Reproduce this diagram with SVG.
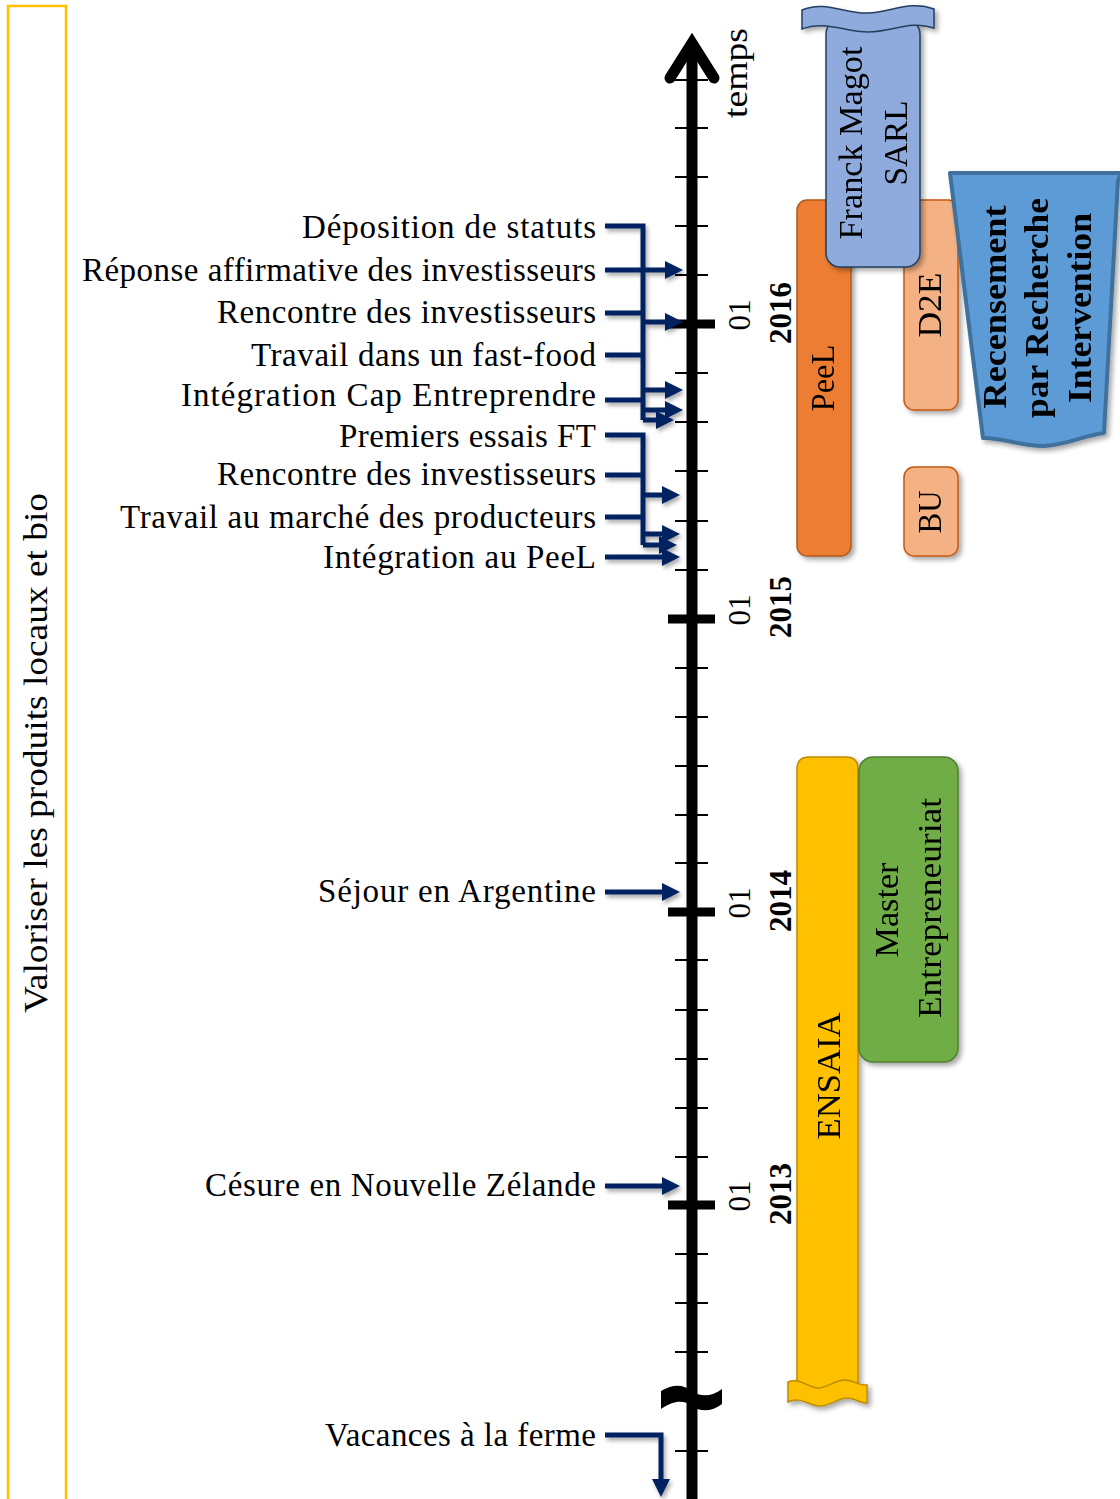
<svg xmlns="http://www.w3.org/2000/svg" width="1120" height="1499" viewBox="0 0 1120 1499">
<style>
.lbl{font-family:"Liberation Serif",serif;font-size:33px;fill:#000}
.yr{font-family:"Liberation Serif",serif;font-size:31px;font-weight:bold;fill:#000}
.mo{font-family:"Liberation Serif",serif;font-size:31px;fill:#000}
.box{font-family:"Liberation Serif",serif;font-size:33px;fill:#000}
.boxb{font-family:"Liberation Serif",serif;font-size:34px;font-weight:bold;fill:#000}
.minor{stroke:#000;stroke-width:2}
.major{stroke:#000;stroke-width:9}
.conn{fill:none;stroke:#002060;stroke-width:5}
</style>
<defs>
<filter id="sh" x="-20%" y="-20%" width="140%" height="140%">
<feDropShadow dx="3" dy="3" stdDeviation="2.5" flood-color="#000" flood-opacity="0.35"/>
</filter>
<filter id="shc" x="-20%" y="-20%" width="140%" height="140%">
<feDropShadow dx="2" dy="3" stdDeviation="2" flood-color="#000" flood-opacity="0.35"/>
</filter>
<marker id="ah" markerUnits="userSpaceOnUse" markerWidth="20" markerHeight="20" viewBox="0 -10 20 20" refX="6" refY="0" orient="auto">
<path d="M0,-9 L18,0 L0,9 Z" fill="#002060"/>
</marker>
</defs>

<rect id="frame" x="8" y="6" width="58" height="1500" fill="none" stroke="#FFC000" stroke-width="2.5"/>
<text class="lbl" transform="translate(47,753) rotate(-90)" text-anchor="middle" textLength="520" lengthAdjust="spacingAndGlyphs">Valoriser les produits locaux et bio</text>

<g id="axis">
<line x1="692" y1="44" x2="692" y2="1499" stroke="#000" stroke-width="11"/>
<path d="M670,78 L692,43 L714,78" fill="none" stroke="#000" stroke-width="11" stroke-linecap="round" stroke-linejoin="miter"/>
<g class="minor">
<line x1="675" y1="80" x2="708" y2="80"/>
<line x1="675" y1="128" x2="708" y2="128"/>
<line x1="675" y1="177" x2="708" y2="177"/>
<line x1="675" y1="226" x2="708" y2="226"/>
<line x1="675" y1="275" x2="708" y2="275"/>
<line x1="675" y1="373" x2="708" y2="373"/>
<line x1="675" y1="422" x2="708" y2="422"/>
<line x1="675" y1="471" x2="708" y2="471"/>
<line x1="675" y1="521" x2="708" y2="521"/>
<line x1="675" y1="570" x2="708" y2="570"/>
<line x1="675" y1="668" x2="708" y2="668"/>
<line x1="675" y1="717" x2="708" y2="717"/>
<line x1="675" y1="766" x2="708" y2="766"/>
<line x1="675" y1="815" x2="708" y2="815"/>
<line x1="675" y1="863" x2="708" y2="863"/>
<line x1="675" y1="960" x2="708" y2="960"/>
<line x1="675" y1="1010" x2="708" y2="1010"/>
<line x1="675" y1="1059" x2="708" y2="1059"/>
<line x1="675" y1="1108" x2="708" y2="1108"/>
<line x1="675" y1="1157" x2="708" y2="1157"/>
<line x1="675" y1="1254" x2="708" y2="1254"/>
<line x1="675" y1="1303" x2="708" y2="1303"/>
<line x1="675" y1="1352" x2="708" y2="1352"/>
<line x1="675" y1="1451" x2="708" y2="1451"/>
</g>
<g class="major">
<line x1="668" y1="324" x2="715" y2="324"/>
<line x1="668" y1="619" x2="715" y2="619"/>
<line x1="668" y1="912" x2="715" y2="912"/>
<line x1="668" y1="1205" x2="715" y2="1205"/>
</g>
<path d="M661,1391 C674,1383 684,1385 692,1391 C700,1397 712,1397 722,1389 L722,1404 C712,1412 700,1412 692,1406 C684,1400 674,1400 661,1409 Z" fill="#000"/>
<text class="lbl" transform="translate(747,73) rotate(-90)" text-anchor="middle" textLength="90" lengthAdjust="spacingAndGlyphs">temps</text>
<text class="mo" transform="translate(750,315) rotate(-90)" text-anchor="middle">01</text>
<text class="yr" transform="translate(791,313) rotate(-90)" text-anchor="middle">2016</text>
<text class="mo" transform="translate(750,610) rotate(-90)" text-anchor="middle">01</text>
<text class="yr" transform="translate(791,607) rotate(-90)" text-anchor="middle">2015</text>
<text class="mo" transform="translate(750,903) rotate(-90)" text-anchor="middle">01</text>
<text class="yr" transform="translate(791,901) rotate(-90)" text-anchor="middle">2014</text>
<text class="mo" transform="translate(750,1196) rotate(-90)" text-anchor="middle">01</text>
<text class="yr" transform="translate(791,1194) rotate(-90)" text-anchor="middle">2013</text>
</g>

<g id="events">
<text class="lbl" x="596" y="238" text-anchor="end" textLength="294">Déposition de statuts</text>
<text class="lbl" x="596" y="281" text-anchor="end" textLength="514">Réponse affirmative des investisseurs</text>
<text class="lbl" x="596" y="323" text-anchor="end" textLength="379">Rencontre des investisseurs</text>
<text class="lbl" x="596" y="366" text-anchor="end" textLength="345">Travail dans un fast-food</text>
<text class="lbl" x="596" y="406" text-anchor="end" textLength="415">Intégration Cap Entreprendre</text>
<text class="lbl" x="596" y="447" text-anchor="end" textLength="257">Premiers essais FT</text>
<text class="lbl" x="596" y="485" text-anchor="end" textLength="379">Rencontre des investisseurs</text>
<text class="lbl" x="596" y="528" text-anchor="end" textLength="476">Travail au marché des producteurs</text>
<text class="lbl" x="596" y="568" text-anchor="end" textLength="273">Intégration au PeeL</text>
<text class="lbl" x="596" y="902" text-anchor="end" textLength="278">Séjour en Argentine</text>
<text class="lbl" x="596" y="1196" text-anchor="end" textLength="391">Césure en Nouvelle Zélande</text>
<text class="lbl" x="596" y="1446" text-anchor="end" textLength="271">Vacances à la ferme</text>
</g>

<g id="connectors" filter="url(#shc)">
<path class="conn" d="M605,226 H643 V420"/>
<path class="conn" d="M605,270 H643 M605,313 H643 M605,355 H643 M605,400 H643"/>
<path class="conn" d="M643,270 H671" marker-end="url(#ah)"/>
<path class="conn" d="M643,322 H671" marker-end="url(#ah)"/>
<path class="conn" d="M643,390 H671" marker-end="url(#ah)"/>
<path class="conn" d="M643,410 H671" marker-end="url(#ah)"/>
<path class="conn" d="M643,420 H662" marker-end="url(#ah)"/>
<path class="conn" d="M605,435 H643 V545"/>
<path class="conn" d="M605,475 H643 M605,517 H643"/>
<path class="conn" d="M643,495 H668" marker-end="url(#ah)"/>
<path class="conn" d="M643,534 H668" marker-end="url(#ah)"/>
<path class="conn" d="M643,545 H665" marker-end="url(#ah)"/>
<path class="conn" d="M605,557 H668" marker-end="url(#ah)"/>
<path class="conn" d="M605,892 H668" marker-end="url(#ah)"/>
<path class="conn" d="M605,1186 H668" marker-end="url(#ah)"/>
<path class="conn" d="M605,1435 H661 V1485" marker-end="url(#ah)"/>
</g>

<g id="peel" filter="url(#sh)">
<rect x="797" y="200" width="54" height="356" rx="10" fill="#ED7D31" stroke="#AE5A21" stroke-width="1.5"/>
<text class="box" transform="translate(834,378) rotate(-90)" text-anchor="middle" textLength="67" lengthAdjust="spacingAndGlyphs">PeeL</text>
</g>
<g id="d2e" filter="url(#sh)">
<rect x="904" y="200" width="54" height="210" rx="10" fill="#F4B183" stroke="#C55A11" stroke-width="1.5"/>
<text class="box" transform="translate(941,305) rotate(-90)" text-anchor="middle" textLength="65" lengthAdjust="spacingAndGlyphs">D2E</text>
</g>
<g id="bu" filter="url(#sh)">
<rect x="904" y="467" width="54" height="89" rx="10" fill="#F4B183" stroke="#C55A11" stroke-width="1.5"/>
<text class="box" transform="translate(941,512) rotate(-90)" text-anchor="middle" textLength="43" lengthAdjust="spacingAndGlyphs">BU</text>
</g>
<g id="franck" filter="url(#sh)">
<rect x="826" y="20" width="94" height="247" rx="14" fill="#8FAADC" stroke="#243F60" stroke-width="1.5"/>
<path d="M802,10 C825,0 845,14 868,13 C892,12 910,0 934,9 V28 C910,20 892,32 868,32 C845,32 825,20 802,29 Z" fill="#8FAADC" stroke="#243F60" stroke-width="1.5"/>
<text class="box" transform="translate(862,143) rotate(-90)" text-anchor="middle" textLength="193" lengthAdjust="spacingAndGlyphs">Franck Magot</text>
<text class="box" transform="translate(907,143) rotate(-90)" text-anchor="middle" textLength="85" lengthAdjust="spacingAndGlyphs">SARL</text>
</g>
<g id="recensement" filter="url(#sh)">
<path d="M950,173 L1122,173 L1118,180 L1104,433 C1085,435 1065,446 1043,446 C1020,446 1000,437 983,438 Z" fill="#5B9BD5" stroke="#41719C" stroke-width="4" stroke-linejoin="round"/>
<text class="boxb" transform="translate(1006,307) rotate(-90)" text-anchor="middle" textLength="203" lengthAdjust="spacingAndGlyphs">Recensement</text>
<text class="boxb" transform="translate(1048,308) rotate(-90)" text-anchor="middle" textLength="220" lengthAdjust="spacingAndGlyphs">par Recherche</text>
<text class="boxb" transform="translate(1091,308) rotate(-90)" text-anchor="middle" textLength="190" lengthAdjust="spacingAndGlyphs">Intervention</text>
</g>
<g id="ensaia" filter="url(#sh)">
<path d="M797,1390 V769 Q797,757 809,757 H846 Q858,757 858,769 V1390 Z" fill="#FFC000" stroke="#BC8C00" stroke-width="1.5"/>
<path d="M788,1382 C800,1377 808,1388 818,1388 C828,1388 836,1379 846,1380 C855,1381 860,1386 867,1385 V1403 C860,1404 855,1397 846,1398 C836,1399 828,1407 818,1406 C808,1405 800,1396 788,1402 Z" fill="#FFC000" stroke="#BC8C00" stroke-width="1.5"/>
<text class="box" transform="translate(840,1076) rotate(-90)" text-anchor="middle" textLength="127" lengthAdjust="spacingAndGlyphs">ENSAIA</text>
</g>
<g id="master" filter="url(#sh)">
<rect x="859" y="757" width="99" height="305" rx="14" fill="#70AD47" stroke="#507E32" stroke-width="1.5"/>
<text class="box" transform="translate(898,910) rotate(-90)" text-anchor="middle" textLength="95" lengthAdjust="spacingAndGlyphs">Master</text>
<text class="box" transform="translate(941,908) rotate(-90)" text-anchor="middle" textLength="220" lengthAdjust="spacingAndGlyphs">Entrepreneuriat</text>
</g>
</svg>
